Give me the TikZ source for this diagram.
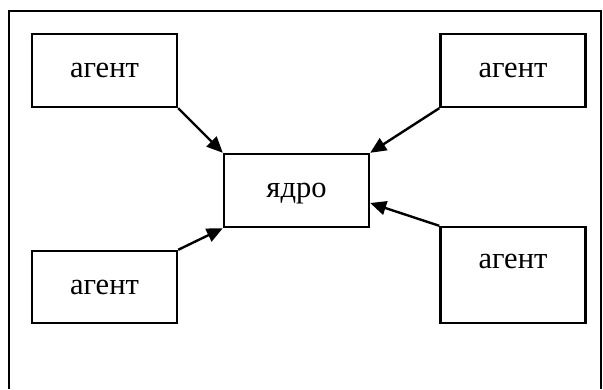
\documentclass[tikz,border=0pt]{standalone}
\usepackage{fontspec}
\setmainfont{Liberation Serif}
\usetikzlibrary{arrows.meta}
\begin{document}
\begin{tikzpicture}[x=1pt,y=-1pt,
  box/.style={draw, line width=2.4pt, rectangle, minimum width=145pt, inner sep=0pt},
  lbl/.style={font=\fontsize{30.5}{35}\selectfont, inner sep=0pt},
  link/.style={line width=2.4pt, -{Triangle[length=16pt,width=14pt]}}]
  \useasboundingbox (0,0) rectangle (603,389);
  % outer frame (open at the bottom)
  \draw[line width=2.4pt] (9,389) -- (9,11) -- (601,11) -- (601,389);
  % core
  \node[box, lbl, minimum height=73pt, text depth=0pt] (core) at (296.5,190.5) {ядро};
  % agents
  \node[box, lbl, minimum height=73pt] (tl) at (104.5,70.5) {агент};
  \node[box, lbl, minimum height=73pt] (tr) at (513,70.5) {агент};
  \node[box, lbl, minimum height=72pt] (bl) at (104.5,287) {агент};
  \node[box, minimum height=96pt] (br) at (513,275) {};
  \node[lbl] (brt) at (513,261) {агент};
  % links into the core
  \draw[link] (tl.south east) -- (core.north west);
  \draw[link] (tr.south west) -- (core.north east);
  \draw[link] (bl.north east) -- (core.south west);
  \draw[link] (br.north west) -- ([yshift=-12.5pt]core.east);
\end{tikzpicture}
\end{document}
